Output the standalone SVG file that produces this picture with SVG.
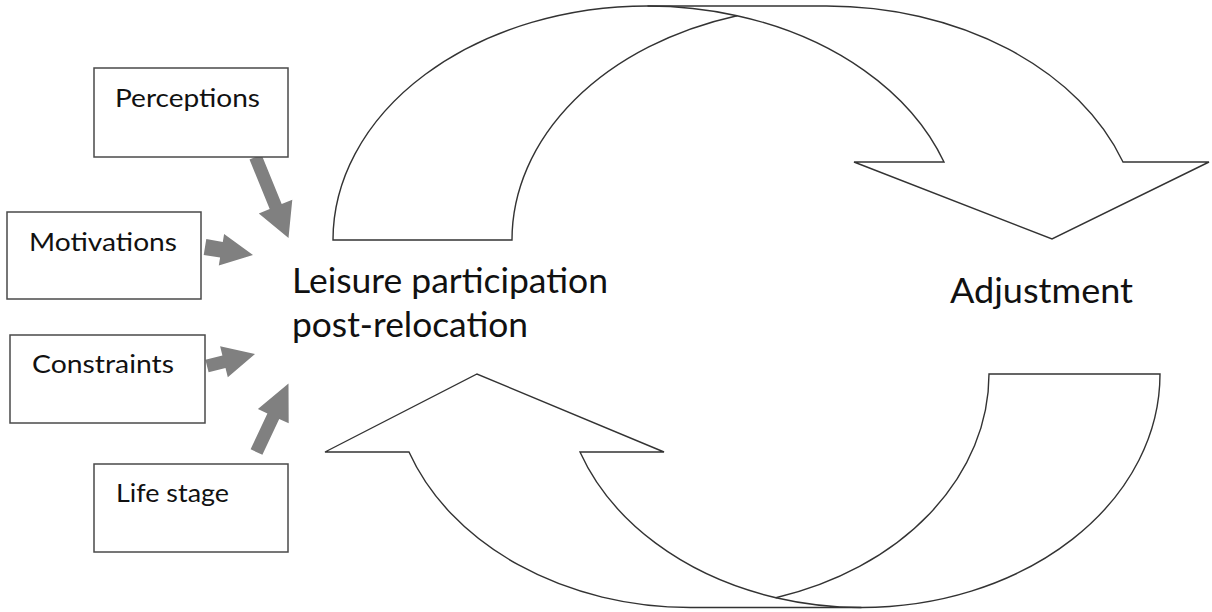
<svg xmlns="http://www.w3.org/2000/svg" width="1212" height="612" viewBox="0 0 1212 612">
  <style>
    .box { fill: #ffffff; stroke: #4a4a4a; stroke-width: 1.5; }
    .small { font-family: Lato, "Liberation Sans", sans-serif; font-size: 25px; fill: #111111; }
    .big { font-family: Lato, "Liberation Sans", sans-serif; font-size: 35px; fill: #111111; }
    .band { fill: #ffffff; stroke: #333333; stroke-width: 1.4; stroke-linejoin: miter; }
    .bandline { fill: none; stroke: #333333; stroke-width: 1.4; }
    .feed { fill: #808080; stroke: none; }
  </style>
  <rect width="1212" height="612" fill="#ffffff"/>

  <g id="connectors">
    <g id="cycle-top">
      <path class="band" d="M333,240 A314.5,234 0 0 1 647.5,6 L826.5,6 A314.5,234 0 0 1 1123,162 L1209,162 L1052,239 L854,162 L944,162 A314.5,234 0 0 0 737,15.7 A314.5,234 0 0 0 512,240 Z"/>
      <path class="bandline" d="M737,15.7 A314.5,234 0 0 0 647.5,6"/>
    </g>
    <g id="cycle-bottom">
      <path class="band" d="M989,374 L1160,374 A298.6,233.5 0 0 1 861.4,607.5 L690.4,607.5 A298.6,233.5 0 0 1 409,452 L325,452 L477,374 L664,452 L580,452 A298.6,233.5 0 0 0 775.9,597.7 A298.6,233.5 0 0 0 989,374 Z"/>
      <path class="bandline" d="M775.9,597.7 A298.6,233.5 0 0 0 861.4,607.5"/>
    </g>
    <polygon id="arrow-perceptions" class="feed" points="249.5,159.5 269.7,209 258.8,213.5 288.5,238 292.3,199.7 281.7,204.1 261.5,154.6"/>
    <polygon id="arrow-motivations" class="feed" points="203.7,254.9 220.1,257.6 218.8,265.5 253,255 224.1,234 222.8,241.9 206.3,239.1"/>
    <polygon id="arrow-constraints" class="feed" points="208.6,372.3 225.5,368.1 227.8,377.3 255,354 220.1,346.2 222.4,355.5 205.4,359.7"/>
    <polygon id="arrow-lifestage" class="feed" points="262.4,454.8 279.2,418.9 288.7,423.3 288.5,383.5 257.9,408.9 267.4,413.4 250.6,449.3"/>
  </g>

  <g id="perceptions">
    <rect class="box" x="94" y="68" width="194" height="89"/>
    <text class="small" x="115" y="107" textLength="145" lengthAdjust="spacingAndGlyphs">Perceptions</text>
  </g>
  <g id="motivations">
    <rect class="box" x="7" y="212" width="194" height="87"/>
    <text class="small" x="29" y="251" textLength="148" lengthAdjust="spacingAndGlyphs">Motivations</text>
  </g>
  <g id="constraints">
    <rect class="box" x="10" y="335" width="195" height="88"/>
    <text class="small" x="32" y="373" textLength="142" lengthAdjust="spacingAndGlyphs">Constraints</text>
  </g>
  <g id="life-stage">
    <rect class="box" x="94" y="464" width="194" height="88"/>
    <text class="small" x="116" y="502" textLength="113" lengthAdjust="spacingAndGlyphs">Life stage</text>
  </g>

  <g id="leisure-participation">
    <text class="big" x="292" y="293" textLength="316" lengthAdjust="spacingAndGlyphs">Leisure participation</text>
    <text class="big" x="292" y="337" textLength="236" lengthAdjust="spacingAndGlyphs">post-relocation</text>
  </g>
  <g id="adjustment">
    <text class="big" x="950" y="303" textLength="183" lengthAdjust="spacingAndGlyphs">Adjustment</text>
  </g>
</svg>
